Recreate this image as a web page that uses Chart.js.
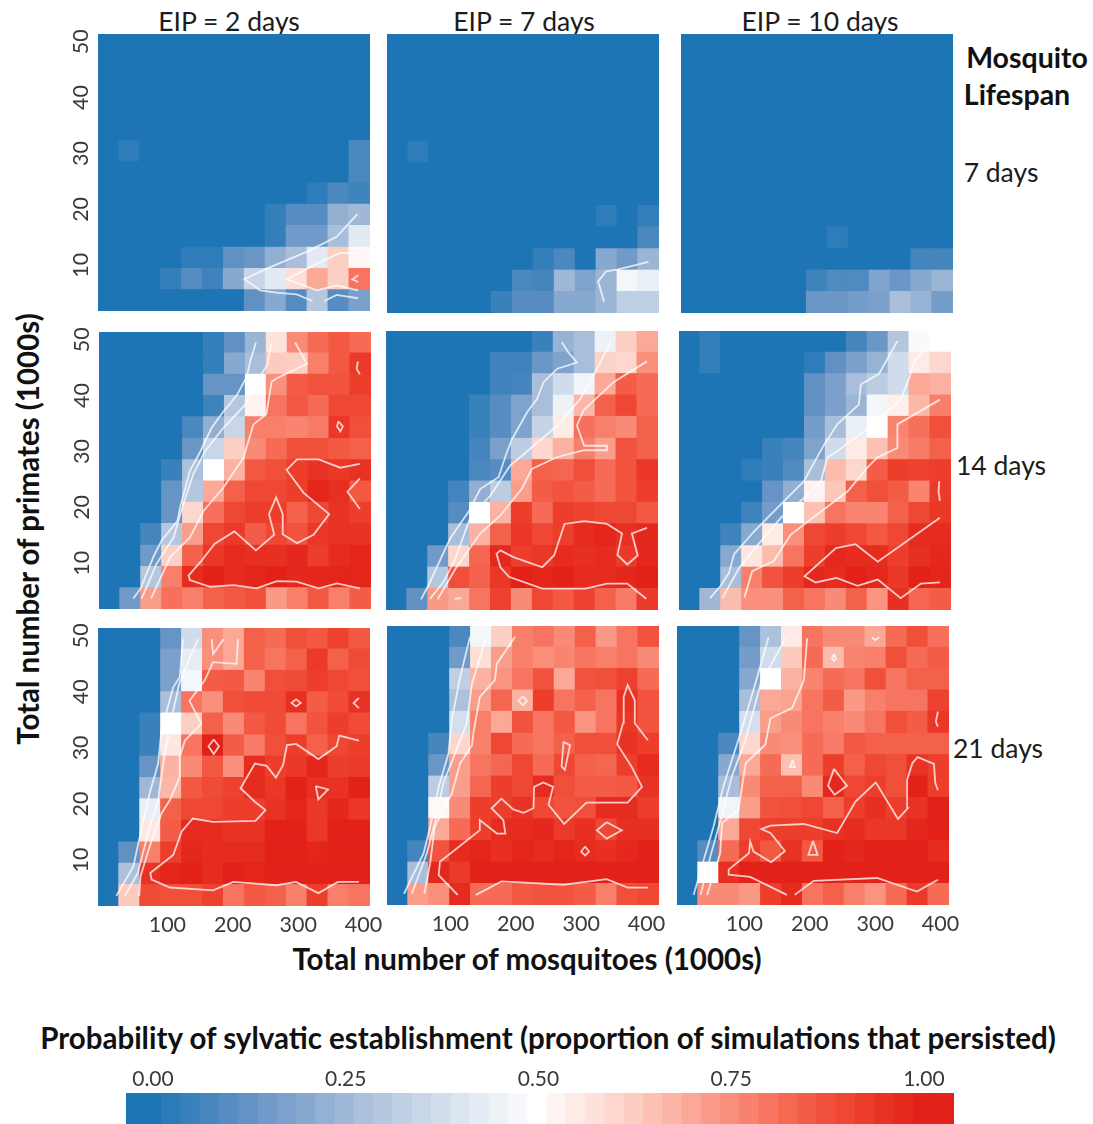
<!DOCTYPE html>
<html>
<head>
<meta charset="utf-8">
<title>Probability of sylvatic establishment</title>
<script src="https://cdn.jsdelivr.net/npm/chart.js@4"></script>
<style>
    html, body { margin: 0; background: #fff; overflow: hidden; }
    #page { position: relative; width: 1093px; height: 1124px; font-family: Lato, sans-serif; color: #1c1c1c; }
    #page canvas { position: absolute; filter: blur(0.6px); }
    .lbl { position: absolute; white-space: nowrap; transform: translate(-50%, -50%); }
    .b { font-weight: 700; color: #111; }
</style>
</head>
<body>
<div id="page"></div>
<script>
// axes
const mosquitoBins = [16, 48, 80, 112, 144, 176, 208, 240, 272, 304, 336, 368, 400];
const primateEdges = [51.4, 47.6, 43.8, 40, 36.2, 32.3, 28.5, 24.7, 20.9, 17.1, 13.2, 9.4, 5.6, 1.8];
const xTicks = [100, 200, 300, 400];
const yTicks = [10, 20, 30, 40, 50];
const legendTicks = [0, 0.25, 0.5, 0.75, 1];
// first and last entries only run the bar out to its ends
const legendSteps = [-0.025, 0, 0.025, 0.05, 0.075, 0.1, 0.125, 0.15, 0.175, 0.2, 0.225, 0.25, 0.275, 0.3, 0.325, 0.35, 0.375, 0.4, 0.425, 0.45, 0.475, 0.5,
    0.525, 0.55, 0.575, 0.6, 0.625, 0.65, 0.675, 0.7, 0.725, 0.75, 0.775, 0.8, 0.825, 0.85, 0.875, 0.9, 0.925, 0.95, 0.975, 1, 1.025];

// percent of simulations that persisted, top row = most primates. Lifespan 7 days
const heatL7E2 = [
    [0,0,0,0,0,0,0,0,0,0,0,0,0],
    [0,0,0,0,0,0,0,0,0,0,0,0,0],
    [0,0,0,0,0,0,0,0,0,0,0,0,0],
    [0,0,0,0,0,0,0,0,0,0,0,0,0],
    [0,0,0,0,0,0,0,0,0,0,0,0,0],
    [0,3,0,0,0,0,0,0,0,0,0,0,8],
    [0,0,0,0,0,0,0,0,0,0,0,0,8],
    [0,0,0,0,0,0,0,0,0,0,3,8,6],
    [0,0,0,0,0,0,0,0,4,10,10,22,25],
    [0,0,0,0,0,0,0,0,4,15,15,27,42],
    [0,0,0,0,3,3,12,14,22,27,42,62,52],
    [0,0,0,4,10,6,20,35,42,58,70,62,80],
    [0,0,0,0,0,0,0,12,20,10,30,10,17]
];
const heatL7E7 = [
    [0,0,0,0,0,0,0,0,0,0,0,0,0],
    [0,0,0,0,0,0,0,0,0,0,0,0,0],
    [0,0,0,0,0,0,0,0,0,0,0,0,0],
    [0,0,0,0,0,0,0,0,0,0,0,0,0],
    [0,0,0,0,0,0,0,0,0,0,0,0,0],
    [0,3,0,0,0,0,0,0,0,0,0,0,0],
    [0,0,0,0,0,0,0,0,0,0,0,0,0],
    [0,0,0,0,0,0,0,0,0,0,0,0,0],
    [0,0,0,0,0,0,0,0,0,0,3,0,4],
    [0,0,0,0,0,0,0,0,0,0,0,0,8],
    [0,0,0,0,0,0,0,4,8,0,20,15,24],
    [0,0,0,0,0,0,8,7,25,18,24,47,44],
    [0,0,0,0,0,5,10,10,20,20,24,33,33]
];
const heatL7E10 = [
    [0,0,0,0,0,0,0,0,0,0,0,0,0],
    [0,0,0,0,0,0,0,0,0,0,0,0,0],
    [0,0,0,0,0,0,0,0,0,0,0,0,0],
    [0,0,0,0,0,0,0,0,0,0,0,0,0],
    [0,0,0,0,0,0,0,0,0,0,0,0,0],
    [0,0,0,0,0,0,0,0,0,0,0,0,0],
    [0,0,0,0,0,0,0,0,0,0,0,0,0],
    [0,0,0,0,0,0,0,0,0,0,0,0,0],
    [0,0,0,0,0,0,0,0,0,0,0,0,0],
    [0,0,0,0,0,0,0,3,0,0,0,0,0],
    [0,0,0,0,0,0,0,0,0,0,0,7,7],
    [0,0,0,0,0,0,6,9,9,18,14,20,24],
    [0,0,0,0,0,0,14,14,16,17,27,23,16]
];

// lifespan 14 days
const heatL14E2 = [
    [0,0,0,0,0,4,12,24,57,76,82,86,82],
    [0,0,0,0,0,4,20,27,63,62,78,86,93],
    [0,0,0,0,0,13,13,50,75,85,87,87,92],
    [0,0,0,0,0,6,30,53,80,86,82,90,90],
    [0,0,0,0,8,22,35,78,78,77,79,94,88],
    [0,0,0,0,14,35,62,76,82,88,88,86,84],
    [0,0,0,5,28,50,68,86,88,92,95,94,95],
    [0,0,0,13,30,70,84,90,90,92,99,96,86],
    [0,0,0,13,60,81,90,92,92,84,90,95,92],
    [0,0,7,30,72,90,93,85,90,87,94,95,95],
    [0,0,15,62,84,94,97,96,96,98,92,97,99],
    [0,0,30,78,97,100,97,99,100,98,98,99,99],
    [0,15,72,81,78,84,86,88,73,78,86,78,85]
];
const heatL14E7 = [
    [0,0,0,0,0,0,0,5,23,27,45,62,70],
    [0,0,0,0,0,6,6,14,18,27,61,60,75],
    [0,0,0,0,0,6,7,27,37,46,70,85,82],
    [0,0,0,0,5,10,18,27,45,67,84,90,82],
    [0,0,0,0,5,10,18,34,55,81,78,76,84],
    [0,0,0,0,7,17,32,60,68,78,72,87,84],
    [0,0,0,0,8,10,70,84,83,88,82,87,94],
    [0,0,0,7,22,32,72,85,87,85,82,87,92],
    [0,0,0,10,50,68,92,82,92,91,90,90,86],
    [0,0,0,27,68,84,94,90,92,97,99,96,98],
    [0,0,15,60,83,98,92,94,97,96,97,93,98],
    [0,0,30,88,84,94,100,99,100,97,97,98,100],
    [0,12,73,70,80,91,76,90,86,91,84,79,93]
];
const heatL14E10 = [
    [0,4,0,0,0,0,0,0,7,14,30,48,50],
    [0,4,0,0,0,0,3,12,17,23,37,55,60],
    [0,0,0,0,0,0,12,17,27,32,37,70,68],
    [0,0,0,0,0,0,12,17,24,47,54,67,78],
    [0,0,0,0,0,0,16,27,44,50,77,81,88],
    [0,0,0,0,5,7,18,37,55,65,76,79,84],
    [0,0,0,3,5,9,27,66,60,85,92,91,92],
    [0,0,0,0,13,22,53,64,84,88,85,77,93],
    [0,0,0,6,16,50,65,80,77,77,84,90,94],
    [0,0,6,20,55,75,90,92,90,86,90,97,97],
    [0,0,20,56,66,80,92,98,97,97,92,96,98],
    [0,0,27,78,87,92,98,97,100,98,94,100,99],
    [0,25,66,75,75,84,80,76,84,74,96,83,85]
];

// lifespan 21 days
const heatL21E2 = [
    [0,0,0,13,37,75,70,84,82,88,86,91,86],
    [0,0,0,17,43,75,70,84,80,84,93,84,89],
    [0,0,0,17,47,85,86,77,88,89,92,90,88],
    [0,0,0,27,80,75,88,89,89,96,85,89,95],
    [0,0,5,50,62,84,76,86,89,80,87,92,89],
    [0,0,5,56,80,100,85,79,88,92,84,90,92],
    [0,0,13,68,76,86,75,97,92,94,99,92,93],
    [0,0,25,67,86,89,91,97,94,100,96,95,100],
    [0,0,44,84,90,90,92,92,95,99,94,98,94],
    [0,0,56,85,97,97,95,95,100,100,94,100,100],
    [0,12,78,92,98,97,97,97,100,100,99,100,100],
    [0,28,95,99,100,97,100,99,100,100,100,100,100],
    [0,63,89,88,88,91,80,86,84,78,92,78,80]
];
const heatL21E7 = [
    [0,0,0,8,47,62,78,80,76,84,73,80,87],
    [0,0,0,15,58,72,78,75,77,80,78,80,76],
    [0,0,0,33,68,74,80,87,70,87,88,91,82],
    [0,0,0,28,72,83,68,92,80,84,80,95,87],
    [0,0,0,38,78,70,87,80,86,74,80,94,87],
    [0,0,7,60,78,90,82,80,84,88,88,95,92],
    [0,0,14,72,80,83,90,82,90,84,83,92,97],
    [0,0,32,72,83,92,90,97,88,85,85,86,95],
    [0,0,52,76,92,92,95,90,87,88,97,97,92],
    [0,0,70,82,92,97,97,98,93,96,90,96,96],
    [0,7,87,97,99,96,99,97,99,97,96,98,100],
    [0,27,98,93,100,100,100,100,100,100,100,100,100],
    [0,72,75,97,82,82,86,87,87,85,78,88,90]
];
const heatL21E10 = [
    [0,0,0,13,28,55,80,76,76,70,82,88,81],
    [0,0,0,16,37,63,82,66,77,78,88,82,85],
    [0,0,0,20,50,68,77,82,80,88,80,84,84],
    [0,0,0,27,70,71,80,85,73,78,80,80,91],
    [0,0,0,38,72,76,80,78,76,80,88,85,94],
    [0,0,8,60,76,75,82,79,86,84,84,84,84],
    [0,0,20,70,82,65,82,92,84,90,88,95,92],
    [0,0,27,76,84,84,76,98,90,92,88,100,92],
    [0,0,46,72,87,88,90,84,92,96,92,95,100],
    [0,0,70,90,92,92,92,95,97,94,94,98,100],
    [0,10,82,92,86,95,86,100,98,100,100,100,97],
    [0,50,96,100,100,100,100,100,100,100,100,100,100],
    [0,76,76,73,92,97,80,84,78,74,82,93,82]
];

// contour lines, [mosquitoes, primates] pairs
const linesL7E2 = [
    [[397,19.2],[365,15.1],[319,12.4],[258,9.4],[224,7.5],[248,5.5],[273,5.1],[304,4.8],[328,3.6]],
    [[398,5.5],[365,6.4],[335,5.5],[289,7.5],[335,10.3],[370,12.2],[398,12.2]],
    [[346,3.6],[365,4.7],[398,4.1]],
    [[398,8.2],[389,7.5],[398,7]]
];
const linesL7E7 = [
    [[332,3.8],[323,7.4],[335,9.2],[352,9.5],[400,10.9]]
];
const linesL7E10 = [];
const linesL14E2 = [
    [[52.5,3.7],[63.8,5.5],[83,11.1],[96,14.1],[120,17.6],[124,20],[139,26.5],[155,30],[172,34.2],[190,37.1],[211,40.1],[226,43.4],[231,46],[240,49.5]],
    [[65.3,3.7],[88,9.9],[114,14.6],[129,20.6],[144,25.9],[162,30],[190,34.2],[223,38.3],[241,42.5],[257,45.4],[264,49.5]],
    [[79.6,3.7],[109,11.1],[139,14.6],[160,19.4],[190,23.5],[221,28.9],[236,34.8],[256,36.7],[264,42.5],[272,43.1],[318,45.7],[300,49.5]],
    [[399,5.5],[364,6.4],[336,5.5],[302,6.7],[272,6.8],[241,5.5],[206,6.1],[170,5.8],[139,7],[137,7.8],[157,10.5],[177,13.5],[207,15.7],[240,12.3],[268,15.1],[260,18.8],[271,21.8],[281,18.8],[281,15.2],[303,13.6],[328,15.1],[352,18.8],[313,22.6],[287,26.7],[303,28.6],[336,28.6],[369,27.1],[399,27.8]],
    [[399,19.7],[380,22.8],[399,25.2]],
    [[396,46.1],[394,44.8],[399,43.8]],
    [[366,35.4],[373,34.5],[369,33.6],[364,34.5],[366,35.4]]
];
const linesL14E7 = [
    [[53.6,3.7],[65,6.2],[98,14.5],[126,19.2],[144,23.3],[172,25.4],[185,29.9],[193,32.2],[216,37],[231,39.3],[241,42.3],[262,44.7],[292,45.8],[279,47.6],[269,49.4]],
    [[66.8,3.7],[88,6.8],[106,10.9],[129,18.3],[160,22.2],[190,27.5],[226,31],[262,34.6],[297,39.3],[323,44.7],[343,49.4]],
    [[79,3.7],[106,9.1],[144,15.4],[175,18.6],[208,23.4],[223,26.9],[262,29],[303,30.2],[338,30.2],[338,31],[303,31],[292,34.6],[302,37.3],[348,42.3],[399,46]],
    [[398,3.8],[369,6.5],[338,6.5],[305,5.6],[239,5.6],[188,7.7],[175,9.4],[169,11.8],[175,12.4],[195,11.2],[239,9.4],[257,11.5],[273,17.1],[303,17.6],[338,17.1],[361,15.4],[354,11.6],[369,9.9],[385,11.5],[376,15.4],[399,16.4]],
    [[105,3.8],[115,3.9]]
];
const linesL14E10 = [
    [[47.4,3.9],[63.8,6.1],[76.5,8.4],[84,11.7],[115,15.8],[161,21.2],[191,24.7],[222,31.2],[242,34.8],[275,38.3],[278,41.9],[306,43.8],[334,49.6]],
    [[66.3,3.9],[92,9.3],[117,12.9],[156,18.2],[191,21.7],[217,24.7],[227,28.9],[242,30],[283,33.6],[319,37.1],[339,39.2],[352,43],[360,46],[380,48.7]],
    [[100,4],[112,8.7],[145,10.5],[171,15.2],[258,22.9],[288,27.1],[303,28.9],[334,30.6],[334,34.8],[399,39.2]],
    [[399,6.7],[370,6.5],[339,3.9],[304,7.2],[273,6.1],[241,7.5],[209,6.7],[192,7.8],[240,12.8],[270,13.5],[304,10.4],[399,18.2]],
    [[398,24.7],[397,22.9],[399,21.2]]
];
const linesL21E2 = [
    [[28,3.6],[54,8.8],[64,14.2],[79,21.9],[92,27.2],[97,33.1],[115,40.8],[125,42.6],[130,49.4]],
    [[41,3.6],[61,7.7],[76.5,14.8],[92,20.7],[102,29],[112,34.9],[124,41.4],[140,46.1],[153,49.4]],
    [[63,3.6],[65,7.1],[79,12.4],[97,18.3],[110,20.7],[125,24.8],[125,28.4],[133,31.3],[158,34.3],[140,38.4],[163,42],[176,45.3],[212,45],[214,49.4]],
    [[174,49.4],[176,46.7],[192,49.4]],
    [[399,6.1],[367,6.1],[337,4.1],[303,6.1],[273,5.5],[207,6.1],[176,4.6],[110,5.1],[82,6.5],[80,7.7],[115,10.9],[128,15.1],[145,17.4],[176,16.8],[241,17],[256,18.9],[240,20.4],[218,22.8],[240,27.2],[258,26.8],[272,24.7],[283,26.9],[289,30.5],[303,30.7],[337,28],[365,30.3],[369,32.2],[399,31.3]],
    [[177,31.5],[185,30.3],[177,28.9],[169,30.3],[177,31.5]],
    [[333,23.2],[352,22.6],[337,20.8],[333,23.2]],
    [[303,38.7],[310,38],[303,37.4],[296,38],[303,38.7]],
    [[399,38.9],[391,38],[399,37.1]]
];
const linesL21E7 = [
    [[26,3.8],[56,11],[66,15.7],[79,22.8],[94,28.7],[99,34.7],[112,42.4],[127,49.5]],
    [[38,3.8],[61,11],[73,16.3],[86,23.4],[104,28.7],[122,34.1],[130,41.2],[152,49.5]],
    [[57,3.8],[66,9.2],[73,15.7],[99,21.6],[112,27],[130,30.2],[132,32.3],[142,38.8],[165,41.8],[168,44.7],[196,49.5]],
    [[108,3.6],[79,7.1],[81,9.5],[142,15.1],[142,16.9],[168,14.5],[181,14.5],[178,16.9],[160,19],[175,20.7],[193,18.8],[209,18.2],[224,19],[225,22.8],[239,23.6],[254,22.8],[247,19.6],[271,16.2],[305,20],[368,20],[390,22.8],[374,26.4],[352,30.4],[361,34.1],[362,38.8],[368,40.9],[379,38.2],[379,34.1],[399,31.1]],
    [[136,3.6],[175,6],[270,5.4],[336,6.4],[368,4.9],[399,4.9]],
    [[270,30.8],[280,30.2],[272,25.8],[267,26.4],[270,30.8]],
    [[336,16.5],[359,15.1],[336,13.6],[321,15.1],[336,16.5]],
    [[303,12.2],[309,11.3],[303,10.6],[297,11.3],[303,12.2]],
    [[208,38.9],[214,38.1],[208,37.3],[201,38.1],[208,38.9]]
];
const linesL21E10 = [
    [[25.5,3.6],[41,9.9],[56,15.8],[71,22.9],[97,32.3],[120,41.2],[140,49.4]],
    [[36,3.6],[51,10.4],[64,15.8],[84,24.7],[105,31.2],[128,41.2],[166,49.2]],
    [[46,3.6],[66,11],[69,16.4],[94,18.7],[105,27],[135,30.3],[143,35],[176,36.8],[194,41.8],[199,49.2]],
    [[168,3.6],[112,6.8],[79,7.2],[79,8.1],[110,11],[112,13.1],[117,11.3],[144,9.4],[165,11.4],[143,14.6],[129,15.3],[143,15.9],[194,16.2],[245,14.6],[273,20.2],[304,23.6],[338,17.1],[353,19],[352,24.1],[360,27],[368,28.1],[393,26.9],[395,23.5],[399,22.2]],
    [[180,3.6],[209,6.1],[306,6.6],[367,4.2],[399,6.3]],
    [[240,26],[260,23],[241,21.4],[231,23],[240,26]],
    [[208,13.2],[215,10.7],[201,10.7],[208,13.2]],
    [[177,27.6],[180,26.3],[173,26.3],[177,27.6]],
    [[240,46.4],[243,45.6],[240,45.2],[237,45.6],[240,46.4]],
    [[298,49.4],[303,48.9],[309,49.4]],
    [[399,36.2],[396,34.4],[399,33.5]]
];

// layout
const W = 272, H = 279, AXIS_W = 40, AXIS_H = 34, PAD = 16, PAD_R = 30;
const panels = [
    { heat: heatL7E2,   lines: linesL7E2,   left: 98,  top: 33 },
    { heat: heatL7E7,   lines: linesL7E7,   left: 387, top: 34 },
    { heat: heatL7E10,  lines: linesL7E10,  left: 681, top: 34 },
    { heat: heatL14E2,  lines: linesL14E2,  left: 99,  top: 331 },
    { heat: heatL14E7,  lines: linesL14E7,  left: 386, top: 331 },
    { heat: heatL14E10, lines: linesL14E10, left: 679, top: 331 },
    { heat: heatL21E2,  lines: linesL21E2,  left: 98,  top: 627 },
    { heat: heatL21E7,  lines: linesL21E7,  left: 387, top: 626 },
    { heat: heatL21E10, lines: linesL21E10, left: 677, top: 626 }
];
const xLabelShift = [4, -2, 2];

const texts = [
    ['EIP = 2 days', 229, 21, 26.5, false],
    ['EIP = 7 days', 524, 21, 26.5, false],
    ['EIP = 10 days', 820, 21, 26.5, false],
    ['Mosquito', 1027, 57, 28.5, true],
    ['Lifespan', 1017, 94, 28.5, true],
    ['7 days', 1001, 172, 26.5, false],
    ['14 days', 1001, 465, 26.5, false],
    ['21 days', 998, 748, 26.5, false],
    ['Total number of mosquitoes (1000s)', 527, 958, 29.5, true],
    ['Probability of sylvatic establishment (proportion of simulations that persisted)', 548, 1037, 29.5, true]
];

const page = document.getElementById('page');

texts.forEach(([t, x, y, size, bold]) => {
    const el = document.createElement('div');
    el.className = bold ? 'lbl b' : 'lbl';
    el.textContent = t;
    el.style.left = x + 'px';
    el.style.top = y + 'px';
    el.style.fontSize = size + 'px';
    page.appendChild(el);
});
const yTitle = document.createElement('div');
yTitle.className = 'lbl b';
yTitle.textContent = 'Total number of primates (1000s)';
yTitle.style.cssText = 'left:27px;top:529px;font-size:29.5px;transform:translate(-50%,-50%) rotate(-90deg)';
page.appendChild(yTitle);

// blue -> white -> red, same ramp as the colour bar
const rampStops = [
    [0, [29, 117, 181]], [0.125, [100, 146, 196]], [0.25, [160, 184, 215]], [0.375, [210, 222, 236]],
    [0.5, [255, 255, 255]], [0.625, [252, 205, 193]], [0.75, [250, 143, 123]], [0.85, [243, 92, 70]],
    [0.92, [236, 62, 43]], [1, [226, 33, 24]]
];
function rampColor(raw) {
    const v = Math.min(1, Math.max(0, raw));
    let i = 0;
    while (i < rampStops.length - 2 && v > rampStops[i + 1][0]) i++;
    const [a, ca] = rampStops[i], [b, cb] = rampStops[i + 1];
    const t = (v - a) / (b - a);
    const c = ca.map((n, k) => Math.round(n + (cb[k] - n) * t));
    return `rgb(${c[0]},${c[1]},${c[2]})`;
}

function addCanvas(left, top, w, h) {
    const c = document.createElement('canvas');
    c.width = w; c.height = h;
    c.style.left = left + 'px';
    c.style.top = top + 'px';
    c.style.width = w + 'px';
    c.style.height = h + 'px';
    page.appendChild(c);
    return c;
}

const tickFont = { family: 'Lato', size: 21.5 };

panels.forEach((p, idx) => {
    const col = idx % 3, row = Math.floor(idx / 3);
    const hasY = col === 0, hasX = row === 2;
    const leftW = hasY ? AXIS_W : 0, botH = hasX ? AXIS_H : 0;
    const canvas = addCanvas(p.left - leftW, p.top - PAD, leftW + W + PAD_R, PAD + H + botH + PAD);

    const cells = [], colors = [];
    p.heat.forEach((vals, r) => vals.forEach((v, c) => {
        cells.push({ x: mosquitoBins[c], y: [primateEdges[r + 1], primateEdges[r]] });
        colors.push(rampColor(v / 100));
    }));
    const datasets = [{ type: 'bar', data: cells, backgroundColor: colors, barPercentage: 1, categoryPercentage: 1, inflateAmount: 0.6, order: 2 }];
    p.lines.forEach(line => datasets.push({
        type: 'line',
        data: line.map(([x, y]) => ({ x, y })),
        borderColor: 'rgba(255,255,255,0.75)',
        borderWidth: 1.8,
        pointRadius: 0,
        tension: 0,
        order: 1
    }));

    new Chart(canvas, {
        type: 'bar',
        data: { datasets },
        options: {
            responsive: false,
            animation: false,
            layout: { padding: { top: PAD, bottom: PAD, right: PAD_R } },
            plugins: { legend: { display: false }, tooltip: { enabled: false } },
            scales: {
                x: {
                    type: 'linear', offset: false, min: 0, max: 416, display: hasX,
                    grid: { display: false, drawTicks: false }, border: { display: false },
                    afterBuildTicks: s => { s.ticks = xTicks.map(value => ({ value })); },
                    afterFit: s => { if (hasX) s.height = AXIS_H; },
                    ticks: { font: tickFont, color: '#3a3a3a', padding: 6, maxRotation: 0, labelOffset: xLabelShift[col], callback: v => v }
                },
                y: {
                    min: 1.8, max: 51.4, display: hasY,
                    grid: { display: false, drawTicks: false }, border: { display: false },
                    afterBuildTicks: s => { s.ticks = yTicks.map(value => ({ value })); },
                    afterFit: s => { if (hasY) s.width = AXIS_W; },
                    ticks: { font: tickFont, color: '#3a3a3a', padding: 4, minRotation: 90, maxRotation: 90, crossAlign: 'center', callback: v => v }
                }
            }
        }
    });
});

// colour bar
const legendCanvas = addCanvas(126, 1060, 828, 64);
new Chart(legendCanvas, {
    type: 'bar',
    data: {
        datasets: [{
            data: legendSteps.map(v => ({ x: v, y: 1 })),
            backgroundColor: legendSteps.map(rampColor),
            barPercentage: 1,
            categoryPercentage: 1,
            barThickness: 21,
            inflateAmount: 0.6
        }]
    },
    options: {
        responsive: false,
        animation: false,
        plugins: { legend: { display: false }, tooltip: { enabled: false } },
        scales: {
            x: {
                type: 'linear', offset: false, position: 'top', min: -0.035, max: 1.039,
                grid: { display: false, drawTicks: false }, border: { display: false },
                afterBuildTicks: s => { s.ticks = legendTicks.map(value => ({ value })); },
                afterFit: s => { s.height = 33; },
                ticks: { font: { family: 'Lato', size: 21 }, color: '#3a3a3a', padding: 1, maxRotation: 0, callback: v => v.toFixed(2) }
            },
            y: { min: 0, max: 1, display: false }
        }
    }
});
</script>
</body>
</html>
